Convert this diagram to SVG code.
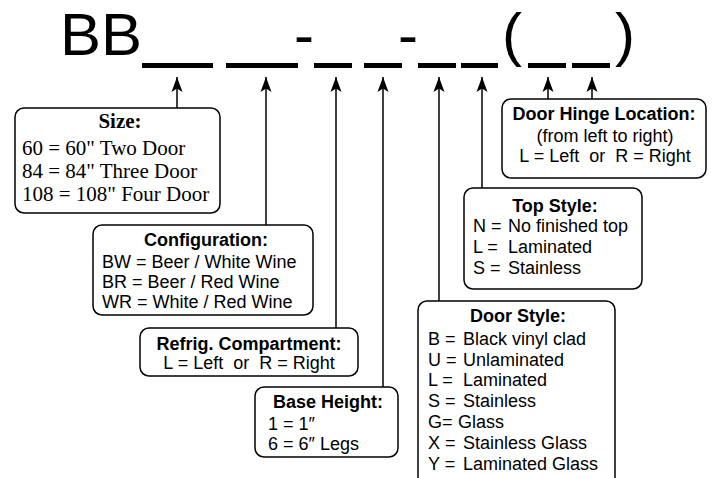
<svg xmlns="http://www.w3.org/2000/svg" width="715" height="478" viewBox="0 0 715 478">
<style>
.box{fill:#fff;stroke:#000;stroke-width:1.5}
.t{font-family:"Liberation Sans",Arial,sans-serif;font-size:18px;fill:#000}
.b{font-weight:bold}
.m{text-anchor:middle}
.s{font-family:"Liberation Serif","Times New Roman",serif;font-size:21px;fill:#000}
.big{font-family:"Liberation Sans",Arial,sans-serif;font-size:60px;fill:#000}
.ln{stroke:#000;stroke-width:1.5;fill:none}
.blank{fill:#000}
</style>
<defs>
<marker id="ah" markerUnits="userSpaceOnUse" markerWidth="17" markerHeight="14" viewBox="-16 -7 17 14" refX="0" refY="0" orient="auto">
<path d="M0,0 L-15,-5.5 L-11.5,0 L-15,5.5 Z" fill="#000"/>
</marker>
</defs>
<g id="code">
<text class="big" x="60" y="55" textLength="82" lengthAdjust="spacingAndGlyphs">BB</text>
<text class="big" x="294" y="55">-</text>
<text class="big" x="398" y="55">-</text>
<text class="big" x="502" y="55">(</text>
<text class="big" x="615" y="55">)</text>
<rect class="blank" x="142" y="63" width="71" height="5"/>
<rect class="blank" x="226" y="63" width="72" height="5"/>
<rect class="blank" x="314" y="63" width="38" height="5"/>
<rect class="blank" x="364" y="63" width="38" height="5"/>
<rect class="blank" x="418" y="63" width="38" height="5"/>
<rect class="blank" x="461" y="63" width="37" height="5"/>
<rect class="blank" x="528" y="63" width="38" height="5"/>
<rect class="blank" x="572" y="63" width="38" height="5"/>
</g>
<g id="connectors">
<line class="ln" x1="177" y1="108" x2="177" y2="77" marker-end="url(#ah)"/>
<line class="ln" x1="266" y1="225" x2="266" y2="77" marker-end="url(#ah)"/>
<line class="ln" x1="336" y1="328" x2="336" y2="77" marker-end="url(#ah)"/>
<line class="ln" x1="383" y1="387" x2="383" y2="77" marker-end="url(#ah)"/>
<line class="ln" x1="439" y1="301" x2="439" y2="77" marker-end="url(#ah)"/>
<line class="ln" x1="482" y1="188" x2="482" y2="77" marker-end="url(#ah)"/>
<line class="ln" x1="548" y1="99" x2="548" y2="77" marker-end="url(#ah)"/>
<line class="ln" x1="592" y1="99" x2="592" y2="77" marker-end="url(#ah)"/>
</g>
<g id="size">
<rect class="box" x="15" y="108" width="205" height="105" rx="9"/>
<text class="s b m" x="120" y="128">Size:</text>
<text class="s" x="22" y="155">60 = 60" Two Door</text>
<text class="s" x="22" y="178">84 = 84" Three Door</text>
<text class="s" x="22" y="201">108 = 108" Four Door</text>
</g>
<g id="configuration">
<rect class="box" x="93" y="225" width="220" height="90" rx="9"/>
<text class="t b m" x="206" y="246">Configuration:</text>
<text class="t" x="102" y="268">BW = Beer / White Wine</text>
<text class="t" x="102" y="288">BR = Beer / Red Wine</text>
<text class="t" x="102" y="308">WR = White / Red Wine</text>
</g>
<g id="refrig">
<rect class="box" x="140" y="328" width="218" height="48" rx="9"/>
<text class="t b m" x="249" y="350">Refrig. Compartment:</text>
<text class="t m" x="249" y="369" xml:space="preserve">L = Left  or  R = Right</text>
</g>
<g id="base-height">
<rect class="box" x="255" y="387" width="143" height="70" rx="9"/>
<text class="t b m" x="328" y="408">Base Height:</text>
<text class="t" x="268" y="430">1 = 1″</text>
<text class="t" x="268" y="450">6 = 6″ Legs</text>
</g>
<g id="door-style">
<rect class="box" x="418" y="301" width="197" height="190" rx="9"/>
<text class="t b m" x="518" y="322">Door Style:</text>
<text class="t" x="428" y="345"><tspan>B = </tspan><tspan x="463">Black vinyl clad</tspan></text>
<text class="t" x="428" y="366"><tspan>U = </tspan><tspan x="463">Unlaminated</tspan></text>
<text class="t" x="428" y="386"><tspan>L = </tspan><tspan x="463">Laminated</tspan></text>
<text class="t" x="428" y="407"><tspan>S = </tspan><tspan x="463">Stainless</tspan></text>
<text class="t" x="428" y="428"><tspan>G= </tspan><tspan x="458">Glass</tspan></text>
<text class="t" x="428" y="449"><tspan>X = </tspan><tspan x="463">Stainless Glass</tspan></text>
<text class="t" x="428" y="470"><tspan>Y = </tspan><tspan x="463">Laminated Glass</tspan></text>
</g>
<g id="top-style">
<rect class="box" x="464" y="188" width="178" height="101" rx="9"/>
<text class="t b m" x="555" y="212">Top Style:</text>
<text class="t" x="473" y="232"><tspan>N = </tspan><tspan x="508">No finished top</tspan></text>
<text class="t" x="473" y="253"><tspan>L  = </tspan><tspan x="508">Laminated</tspan></text>
<text class="t" x="473" y="274"><tspan>S = </tspan><tspan x="508">Stainless</tspan></text>
</g>
<g id="door-hinge">
<rect class="box" x="502" y="99" width="204" height="79" rx="9"/>
<text class="t b m" x="604" y="120">Door Hinge Location:</text>
<text class="t m" x="605" y="142">(from left to right)</text>
<text class="t m" x="605" y="162" xml:space="preserve">L = Left  or  R = Right</text>
</g>
</svg>
